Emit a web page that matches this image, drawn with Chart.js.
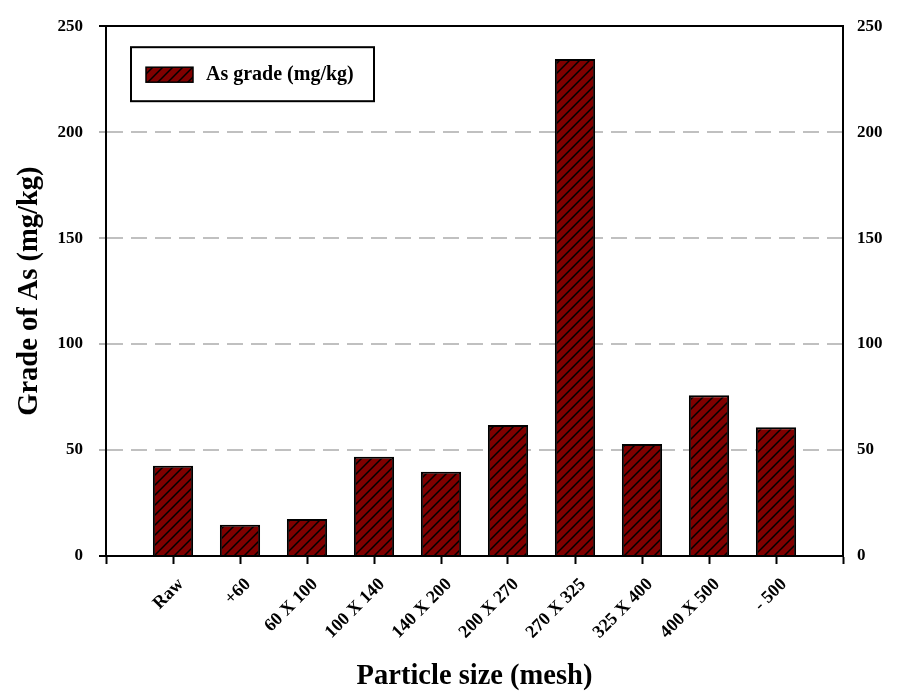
<!DOCTYPE html>
<html><head><meta charset="utf-8">
<script src="https://cdn.jsdelivr.net/npm/chart.js@4"></script>
<style>html,body{margin:0;padding:0;background:#fff}#wrap{width:911px;height:697px;position:relative}</style>
</head><body><div id="wrap"><canvas id="c"></canvas></div>
<script>
const categories = ['Raw', '+60', '60 X 100', '100 X 140', '140 X 200', '200 X 270', '270 X 325', '325 X 400', '400 X 500', '- 500'];
const asGrade = [42.6, 14.7, 17.5, 46.8, 39.7, 61.8, 234.5, 52.8, 75.9, 60.8];
const yTicks = [0, 50, 100, 150, 200, 250];
const seriesLabel = 'As grade (mg/kg)';
const xTitle = 'Particle size (mesh)';
const yTitle = 'Grade of As (mg/kg)';

const SERIF = "'Liberation Serif','Times New Roman',serif";

function hatch() {
  const s = 10, c = document.createElement('canvas');
  c.width = s; c.height = s;
  const g = c.getContext('2d');
  g.fillStyle = '#800000'; g.fillRect(0, 0, s, s);
  g.strokeStyle = '#000'; g.lineWidth = 1.5; g.lineCap = 'square';
  g.beginPath();
  g.moveTo(0, s); g.lineTo(s, 0);
  g.moveTo(-1, 1); g.lineTo(1, -1);
  g.moveTo(s - 1, s + 1); g.lineTo(s + 1, s - 1);
  g.stroke();
  return g.createPattern(c, 'repeat');
}
const pattern = hatch();

const legendBox = {
  id: 'legendBox',
  afterDraw(chart) {
    const ctx = chart.ctx, a = chart.chartArea;
    const ds = chart.data.datasets[0];
    const x = a.left + 25, y = a.top + 21, w = 243, h = 54;
    ctx.save();
    ctx.fillStyle = '#fff'; ctx.fillRect(x, y, w, h);
    ctx.lineWidth = 2; ctx.strokeStyle = '#000'; ctx.strokeRect(x, y, w, h);
    ctx.fillStyle = ds.backgroundColor;
    ctx.fillRect(x + 15, y + 20, 47, 15);
    ctx.lineWidth = 1.5; ctx.strokeRect(x + 15, y + 20, 47, 15);
    ctx.fillStyle = '#000';
    ctx.font = "bold 20px " + SERIF;
    ctx.textBaseline = 'middle'; ctx.textAlign = 'left';
    ctx.fillText(ds.label, x + 75, y + 28);
    ctx.restore();
  }
};

new Chart(document.getElementById('c'), {
  type: 'bar',
  data: {
    datasets: [{
      label: seriesLabel,
      data: asGrade.map((v, i) => ({ x: i + 1, y: v })),
      backgroundColor: pattern,
      borderColor: '#000',
      borderWidth: 2,
      barPercentage: 0.6,
      categoryPercentage: 1.0
    }]
  },
  options: {
    responsive: true,
    maintainAspectRatio: false,
    animation: false,
    layout: { padding: { top: 26, left: 0, right: 0, bottom: 0 } },
    plugins: { legend: { display: false }, tooltip: { enabled: false } },
    scales: {
      x: {
        type: 'linear', position: 'bottom', min: 0, max: categories.length + 1, offset: false,
        afterFit: s => { s.height = 141; },
        afterBuildTicks: s => { s.ticks = Array.from({ length: categories.length + 2 }, (_, i) => ({ value: i })); },
        ticks: {
          autoSkip: false, maxRotation: 45, minRotation: 45, padding: 10, labelOffset: 8,
          color: '#000', font: { family: SERIF, size: 18, weight: 'bold' },
          callback: v => categories[v - 1] || ''
        },
        grid: { offset: false, drawOnChartArea: false, drawTicks: true, tickLength: 8, tickColor: '#000', tickWidth: 2, color: '#000' },
        border: { display: true, color: '#000', width: 2 },
        title: { display: true, text: xTitle, color: '#000', font: { family: SERIF, size: 28.5, weight: 'bold' }, padding: { top: 0, bottom: 3 } }
      },
      xTop: {
        type: 'linear', position: 'top', min: 0, max: categories.length + 1,
        afterFit: s => { s.height = 0; },
        ticks: { display: false },
        grid: { display: false },
        border: { display: true, color: '#000', width: 2 }
      },
      y: {
        position: 'left', min: 0, max: 250,
        afterFit: s => { s.width = 106; },
        afterBuildTicks: s => { s.ticks = yTicks.map(v => ({ value: v })); },
        ticks: { padding: 16, color: '#000', font: { family: SERIF, size: 17, weight: 'bold' } },
        grid: {
          drawTicks: true, tickLength: 7, tickWidth: 2,
          color: c => (c.tick && (c.tick.value === 0 || c.tick.value === 250)) ? 'rgba(0,0,0,0)' : '#c0c0c0',
          tickColor: c => (c.tick && (c.tick.value === 0 || c.tick.value === 250)) ? '#000' : '#b4b4b4',
          lineWidth: 2
        },
        border: { display: true, color: '#000', width: 2, dash: [16, 8] },
        title: { display: true, text: yTitle, color: '#000', font: { family: SERIF, size: 28.5, weight: 'bold' }, padding: { top: 13, bottom: 0 } }
      },
      y2: {
        position: 'right', min: 0, max: 250,
        afterFit: s => { s.width = 68; },
        afterBuildTicks: s => { s.ticks = yTicks.map(v => ({ value: v })); },
        ticks: { padding: 6, color: '#000', font: { family: SERIF, size: 17, weight: 'bold' } },
        grid: { display: false },
        border: { display: true, color: '#000', width: 2 }
      }
    }
  },
  plugins: [legendBox]
});
</script>
</body></html>
